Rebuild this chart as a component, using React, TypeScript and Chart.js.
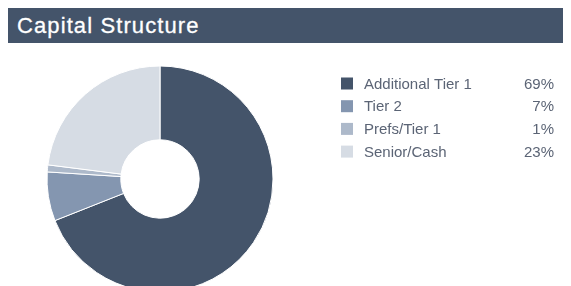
import React, { useEffect, useRef } from "react";
import { Chart, registerables } from "chart.js";

Chart.register(...registerables);

const categories = ["Additional Tier 1", "Tier 2", "Prefs/Tier 1", "Senior/Cash"];
const values = [69, 7, 1, 23];
const percentLabels = ["69%", "7%", "1%", "23%"];
const colors = ["#44546a", "#8496b0", "#adb9ca", "#d6dce4"];

const FONT = "'Liberation Sans', Arial, Helvetica, sans-serif";

const legendPlugin = {
  id: "sideLegend",
  afterDraw(chart: any) {
    const ctx = chart.ctx as CanvasRenderingContext2D;
    const labels = chart.data.labels as string[];
    const ds = chart.data.datasets[0];
    ctx.save();
    labels.forEach((label, i) => {
      const cy = 40.5 + i * 22.7;
      ctx.fillStyle = (ds.backgroundColor as string[])[i];
      ctx.fillRect(333, cy - 6, 12, 12);
      ctx.fillStyle = "#5b6475";
      ctx.font = `15px ${FONT}`;
      ctx.textBaseline = "middle";
      ctx.textAlign = "left";
      ctx.fillText(label, 356, cy + 1);
      ctx.textAlign = "right";
      ctx.fillText(percentLabels[i], 546, cy + 1);
    });
    ctx.restore();
  },
};

export default function App() {
  const ref = useRef<HTMLCanvasElement | null>(null);
  useEffect(() => {
    document.documentElement.style.overflow = "hidden";
    document.body.style.overflow = "hidden";
    const chart = new Chart(ref.current!, {
      type: "doughnut",
      data: {
        labels: categories,
        datasets: [
          {
            data: values,
            backgroundColor: colors,
            borderColor: "#ffffff",
            borderWidth: 1,
          },
        ],
      },
      options: {
        animation: false,
        responsive: false,
        maintainAspectRatio: false,
        radius: 113,
        cutout: 47,
        layout: { padding: { left: 0, top: 0, right: 251, bottom: 0 } },
        plugins: {
          legend: { display: false },
          tooltip: { enabled: false },
          title: { display: false },
        },
      },
      plugins: [legendPlugin],
    });
    return () => chart.destroy();
  }, []);

  return (
    <div style={{ width: 555 }}>
      <div
        style={{
          height: 35,
          background: "#44546a",
          color: "#ffffff",
          fontFamily: FONT,
          fontSize: 22,
          letterSpacing: "1.1px",
          lineHeight: "35px",
          paddingLeft: 9,
          boxSizing: "border-box",
          whiteSpace: "nowrap",
          WebkitTextStroke: "0.3px #ffffff",
        }}
      >
        Capital Structure
      </div>
      <div style={{ height: 243, overflow: "hidden", position: "relative" }}>
        <canvas ref={ref} width={555} height={272} style={{ display: "block" }} />
      </div>
    </div>
  );
}
